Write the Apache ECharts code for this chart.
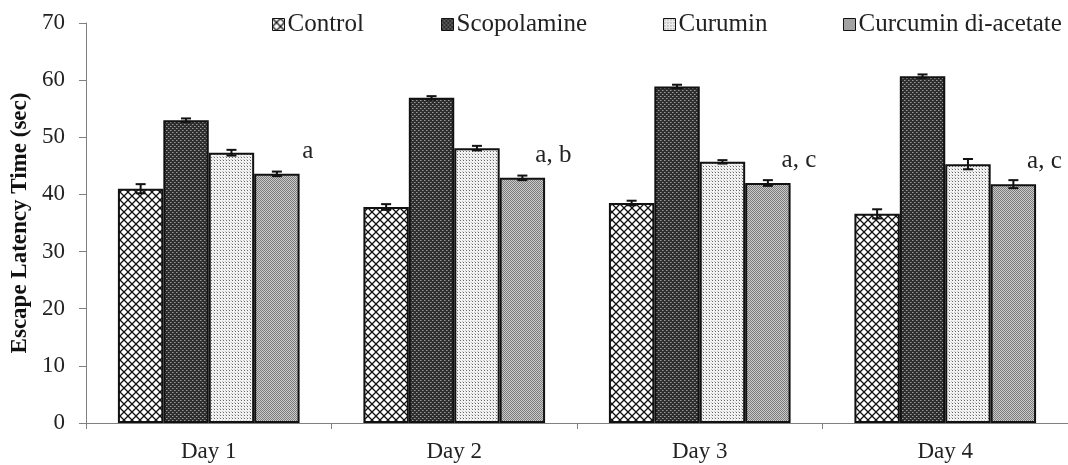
<!DOCTYPE html>
<html><head><meta charset="utf-8">
<script src="https://cdn.jsdelivr.net/npm/echarts@6/dist/echarts.min.js"></script>
<style>html,body{margin:0;padding:0;background:#fff}#c{width:1068px;height:465px}</style>
</head><body><div id="c"></div>
<script>
const categories = ['Day 1', 'Day 2', 'Day 3', 'Day 4'];
const seriesNames = ['Control', 'Scopolamine', 'Curumin', 'Curcumin di-acetate'];
const controlValues = [41.0, 37.8, 38.5, 36.6];
const scopolamineValues = [53.0, 56.9, 58.9, 60.7];
const curuminValues = [47.3, 48.1, 45.7, 45.3];
const cdaValues = [43.6, 42.9, 42.0, 41.8];
const controlErr = [0.8, 0.5, 0.4, 0.8];
const scopolamineErr = [0.3, 0.3, 0.3, 0.3];
const curuminErr = [0.5, 0.4, 0.3, 0.9];
const cdaErr = [0.4, 0.4, 0.5, 0.7];
const annotations = ['a', 'a, b', 'a, c', 'a, c'];
const yTicks = [0, 10, 20, 30, 40, 50, 60, 70];

const FONT = "'Liberation Serif', 'Times New Roman', serif";

function pat(w, h, draw) {
  const c = document.createElement('canvas');
  c.width = w; c.height = h;
  const g = c.getContext('2d');
  draw(g, w, h);
  return { image: c, repeat: 'repeat' };
}
const patControl = pat(8, 8, (g, w, h) => {
  g.fillStyle = '#fff'; g.fillRect(0, 0, w, h);
  g.strokeStyle = '#111'; g.lineWidth = 1.3;
  g.beginPath();
  g.moveTo(0, 0); g.lineTo(8, 8);
  g.moveTo(8, 0); g.lineTo(0, 8);
  g.stroke();
});
const patScop = pat(4, 4, (g) => {
  g.fillStyle = '#2e2e2e'; g.fillRect(0, 0, 4, 4);
  g.fillStyle = '#9a9a9a';
  g.fillRect(0, 0, 1, 1); g.fillRect(2, 2, 1, 1);
  g.fillStyle = '#666';
  g.fillRect(1, 0, 1, 1); g.fillRect(3, 2, 1, 1);
});
const patCur = pat(3, 3, (g) => {
  g.fillStyle = '#f2f2f2'; g.fillRect(0, 0, 3, 3);
  g.fillStyle = '#666';
  g.fillRect(1, 1, 1, 1);
  g.fillStyle = '#c4c4c4';
  g.fillRect(0, 0, 1, 1);
});
const patCda = pat(2, 2, (g) => {
  g.fillStyle = '#cacaca'; g.fillRect(0, 0, 2, 2);
  g.fillStyle = '#7c7c7c';
  g.fillRect(0, 0, 1, 1); g.fillRect(1, 1, 1, 1);
});
const patterns = [patControl, patScop, patCur, patCda];
const valueSets = [controlValues, scopolamineValues, curuminValues, cdaValues];
const errSets = [controlErr, scopolamineErr, curuminErr, cdaErr];

const CAT_GAP = 0.26;

const barSeries = seriesNames.map((name, si) => ({
  name: name,
  type: 'bar',
  barGap: '0%',
  barCategoryGap: (CAT_GAP * 100) + '%',
  itemStyle: { color: patterns[si], borderColor: '#111', borderWidth: 2 },
  emphasis: { disabled: true },
  data: valueSets[si].map((v, i) => {
    const d = { value: v };
    if (si === 3) {
      d.label = {
        show: true, position: 'top', offset: [31, -5],
        formatter: annotations[i],
        fontFamily: FONT, fontSize: 25, color: '#222'
      };
    }
    return d;
  })
}));

const errData = [];
valueSets.forEach((vals, si) => {
  vals.forEach((v, i) => errData.push([i, v, errSets[si][i], si]));
});

const errSeries = {
  type: 'custom',
  silent: true,
  z: 10,
  data: errData,
  encode: { x: 0, y: 1 },
  renderItem: function (params, api) {
    const ci = api.value(0), v = api.value(1), e = api.value(2), si = api.value(3);
    const band = api.size([1, 0])[0];
    const region = band * (1 - CAT_GAP);
    const bw = region / 4;
    const c = api.coord([ci, v]);
    const x = c[0] - region / 2 + (si + 0.5) * bw;
    const yHi = api.coord([ci, v + e])[1];
    const yLo = api.coord([ci, v - e])[1];
    const cap = 5;
    const st = { stroke: '#111', lineWidth: 2 };
    return {
      type: 'group',
      children: [
        { type: 'line', shape: { x1: x, y1: yHi, x2: x, y2: yLo }, style: st },
        { type: 'line', shape: { x1: x - cap, y1: yHi, x2: x + cap, y2: yHi }, style: st },
        { type: 'line', shape: { x1: x - cap, y1: yLo, x2: x + cap, y2: yLo }, style: st }
      ]
    };
  }
};

const legendLefts = [272, 441, 663, 843];
const legends = seriesNames.map((n, i) => ({
  data: [n],
  left: legendLefts[i],
  top: 12,
  orient: 'horizontal',
  icon: 'rect',
  itemWidth: 12,
  itemHeight: 12,
  itemGap: 0,
  padding: 0,
  selectedMode: false,
  itemStyle: { borderColor: '#111', borderWidth: 1 },
  textStyle: { fontFamily: FONT, fontSize: 25, color: '#222', padding: [0, 0, 0, -2] }
}));

const chart = echarts.init(document.getElementById('c'), null, { renderer: 'canvas' });
chart.setOption({
  animation: false,
  backgroundColor: '#fff',
  legend: legends,
  grid: { left: 86, top: 23, height: 400, width: 993, containLabel: false },
  xAxis: {
    type: 'category',
    data: categories,
    axisLine: { lineStyle: { color: '#808080', width: 1 } },
    axisTick: { show: true, alignWithLabel: false, length: 6, lineStyle: { color: '#808080' } },
    axisLabel: { fontFamily: FONT, fontSize: 23, color: '#222', margin: 17 }
  },
  yAxis: {
    type: 'value',
    min: yTicks[0], max: yTicks[yTicks.length - 1], interval: 10,
    splitLine: { show: false },
    axisLine: { show: true, lineStyle: { color: '#808080', width: 1 } },
    axisTick: { show: true, length: 7, lineStyle: { color: '#808080' } },
    axisLabel: { fontFamily: FONT, fontSize: 23, color: '#222', margin: 21 },
    name: 'Escape Latency Time (sec)',
    nameLocation: 'middle',
    nameGap: 46,
    nameTextStyle: { fontFamily: FONT, fontSize: 23, fontWeight: 'bold', color: '#111' }
  },
  series: barSeries.concat([errSeries])
});
</script></body></html>
